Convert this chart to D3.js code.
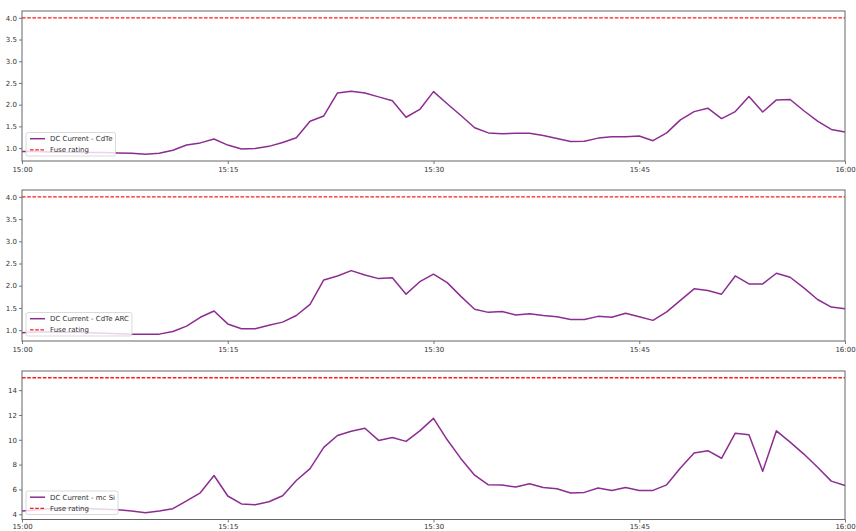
<!DOCTYPE html>
<html>
<head>
<meta charset="utf-8">
<script src="https://cdn.jsdelivr.net/npm/d3@7"></script>
<style>
  html, body { margin: 0; padding: 0; background: #fff; }
  svg { display: block; font-family: "DejaVu Sans", sans-serif; }
</style>
</head>
<body>
<svg id="chart" width="856" height="531"></svg>
<script>
// ---- data (one reading per minute, 15:00 .. 16:00) ----
const startTime = "15:00";
const endTime = "16:00";
const seriesNames = ["DC Current - CdTe", "DC Current - CdTe ARC", "DC Current - mc Si"];
const fuseLabel = "Fuse rating";
const fuseRatings = [4.0, 4.0, 15.0];

const cdte = [0.92,0.92,0.91,0.91,0.90,0.90,0.90,0.89,0.88,
  0.86,0.88,0.95,1.07,1.12,1.21,1.07,0.98,0.99,1.04,1.13,1.24,1.62,1.74,2.27,2.31,2.27,2.18,2.09,1.71,1.89,2.30,
  2.02,1.75,1.47,1.35,1.33,1.34,1.34,1.29,1.22,1.15,1.16,1.23,1.26,1.26,1.28,1.17,1.35,1.65,1.84,1.92,
  1.68,1.84,2.19,1.83,2.11,2.12,1.86,1.62,1.43,1.37];

const cdteArc = [0.94,0.96,0.96,0.95,0.95,0.94,0.93,
  0.92,0.91,0.91,0.91,0.97,1.09,1.29,1.43,1.14,1.03,1.03,1.11,1.18,1.33,1.58,2.13,2.22,2.34,2.24,2.16,2.18,1.81,2.09,2.26,
  2.07,1.76,1.47,1.40,1.42,1.34,1.37,1.33,1.30,1.24,1.24,1.31,1.29,1.38,1.30,1.22,1.41,1.67,1.93,1.89,
  1.81,2.22,2.04,2.04,2.28,2.19,1.95,1.69,1.52,1.48];

const mcSi = [4.27,4.35,4.45,4.50,4.50,4.45,4.40,4.37,4.27,4.12,4.27,4.45,5.07,5.73,7.12,5.47,4.83,4.77,5.01,5.49,6.72,
  7.68,9.39,10.35,10.69,10.93,9.95,10.19,9.87,10.72,11.73,10.00,8.48,7.15,6.37,6.35,6.19,6.45,6.16,6.05,5.71,
  5.76,6.11,5.92,6.16,5.92,5.92,6.37,7.73,8.93,9.12,8.51,10.53,10.40,7.47,10.72,9.81,8.85,7.79,6.67,6.32];

const yTicks1 = [1.0, 1.5, 2.0, 2.5, 3.0, 3.5, 4.0];
const yTicks3 = [4, 6, 8, 10, 12, 14];
const xTickLabels = ["15:00", "15:15", "15:30", "15:45", "16:00"];

// ---- layout ----
const svg = d3.select("#chart");
const left = 22, right = 845;
const panelBands = [[11, 161], [190, 341], [371, 519.5]];
const xLabelPad = [3, 3, 2];
const lineColor = "#8c2d92";
const fuseColor = "#ff1a1a";

const parse = d3.timeParse("%H:%M");
const t0 = parse(startTime), t1 = parse(endTime);
const times = d3.timeMinute.range(t0, d3.timeMinute.offset(t1, 1));

const x = d3.scaleTime().domain([t0, t1]).range([left, right]);
const xTickDates = xTickLabels.map(parse);

const panels = [
  { values: cdte, name: seriesNames[0], fuse: fuseRatings[0], ticks: yTicks1, fmt: d3.format(".1f") },
  { values: cdteArc, name: seriesNames[1], fuse: fuseRatings[1], ticks: yTicks1, fmt: d3.format(".1f") },
  { values: mcSi, name: seriesNames[2], fuse: fuseRatings[2], ticks: yTicks3, fmt: d3.format("d") }
];

panels.forEach((p, i) => {
  const [top, bottom] = panelBands[i];
  const lo = Math.min(d3.min(p.values), p.fuse), hi = Math.max(d3.max(p.values), p.fuse);
  const pad = (hi - lo) * 0.05;
  const y = d3.scaleLinear().domain([lo - pad, hi + pad]).range([bottom, top]);

  const g = svg.append("g");

  // fuse line
  g.append("line")
    .attr("x1", left).attr("x2", right)
    .attr("y1", y(p.fuse)).attr("y2", y(p.fuse))
    .attr("stroke", fuseColor).attr("stroke-width", 1.3)
    .attr("stroke-dasharray", "3.6,1.6");

  // series line
  const line = d3.line().x((d, k) => x(times[k])).y(d => y(d));
  g.append("path").datum(p.values)
    .attr("d", line)
    .attr("fill", "none")
    .attr("stroke", lineColor)
    .attr("stroke-width", 1.5)
    .attr("stroke-linejoin", "round");

  // axes
  const yAxis = d3.axisLeft(y).tickValues(p.ticks).tickFormat(p.fmt).tickSize(3).tickPadding(2);
  const ya = g.append("g").attr("transform", `translate(${left},0)`).call(yAxis);
  const xAxis = d3.axisBottom(x).tickValues(xTickDates).tickFormat(d3.timeFormat("%H:%M")).tickSize(3).tickPadding(xLabelPad[i]);
  const xa = g.append("g").attr("transform", `translate(0,${bottom})`).call(xAxis);
  [ya, xa].forEach(a => {
    a.select(".domain").remove();
    a.selectAll(".tick line").attr("stroke", "#555").attr("stroke-width", 0.8);
    a.selectAll(".tick text").attr("fill", "#333").style("font-size", "7px").style("font-family", "DejaVu Sans");
  });

  // frame
  g.append("rect")
    .attr("x", left).attr("y", top)
    .attr("width", right - left).attr("height", bottom - top)
    .attr("fill", "none").attr("stroke", "#666").attr("stroke-width", 1);

  // legend
  const lg = g.append("g");
  const box = lg.append("rect")
    .attr("x", 26).attr("y", bottom - 28.5)
    .attr("height", 23.5).attr("rx", 2)
    .attr("fill", "#fff").attr("fill-opacity", 0.8)
    .attr("stroke", "#d0d0d0").attr("stroke-width", 0.8);
  const r1 = bottom - 22.3, r2 = bottom - 11.2;
  lg.append("line").attr("x1", 30).attr("x2", 45).attr("y1", r1).attr("y2", r1)
    .attr("stroke", lineColor).attr("stroke-width", 1.5);
  lg.append("line").attr("x1", 30).attr("x2", 45).attr("y1", r2).attr("y2", r2)
    .attr("stroke", fuseColor).attr("stroke-width", 1.3).attr("stroke-dasharray", "3.6,1.6");
  const t1n = lg.append("text").attr("x", 50).attr("y", r1).attr("dy", "0.35em")
    .style("font-size", "7px").attr("fill", "#333").text(p.name);
  const t2n = lg.append("text").attr("x", 50).attr("y", r2).attr("dy", "0.35em")
    .style("font-size", "7px").attr("fill", "#333").text(fuseLabel);
  const w = Math.max(t1n.node().getComputedTextLength(), t2n.node().getComputedTextLength());
  box.attr("width", 50 + w + 3 - 26);
});
</script>
</body>
</html>
